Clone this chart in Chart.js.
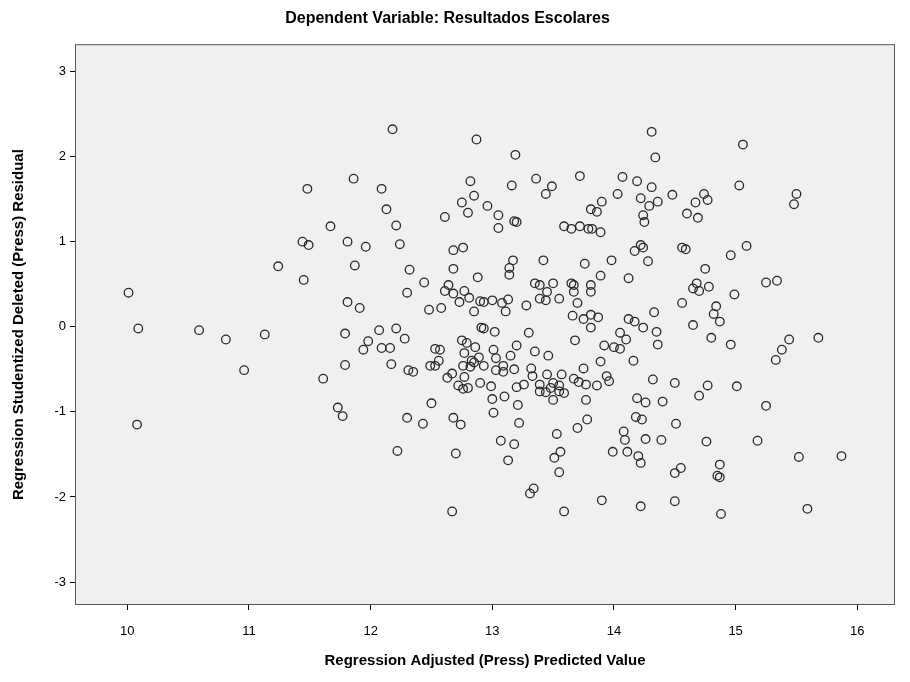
<!DOCTYPE html>
<html>
<head>
<meta charset="utf-8">
<script src="https://cdn.jsdelivr.net/npm/chart.js@4.4.1/dist/chart.umd.min.js"></script>
<style>
  html, body { margin: 0; padding: 0; background: #fff; }
  canvas { display: block; }
</style>
</head>
<body>
<canvas id="scatter" width="910" height="682"></canvas>
<script>
// predicted values (x) and studentized deleted residuals (y), one pair per case
const predicted = [
  11.48, 11.67, 11.44, 11.49, 11.24, 12.18, 12.87, 11.86, 12.09, 12.82,
  12.85, 12.75, 12.80, 12.96, 13.05, 13.05, 12.13, 12.61, 12.21, 11.81,
  11.96, 12.24, 12.68, 12.76, 11.87, 12.32, 12.68, 14.31, 14.34, 13.19,
  13.36, 13.49, 13.44, 13.16, 13.72, 14.07, 14.19, 14.31, 14.03, 14.22,
  14.29, 14.36, 14.48, 14.24, 14.25, 13.90, 13.81, 13.86, 13.18, 13.20,
  13.59, 13.65, 13.72, 13.79, 13.82, 13.89, 14.22, 14.17, 14.24, 13.17,
  13.14, 13.42, 13.76, 13.98, 14.28, 15.06, 15.03, 15.50, 15.48, 14.74,
  14.77, 14.67, 14.60, 14.69, 14.56, 14.59, 14.96, 15.09, 14.75, 11.45,
  10.01, 10.09, 10.59, 10.81, 11.13, 10.96, 11.61, 10.08, 12.88, 12.44,
  12.30, 12.64, 12.61, 12.68, 12.77, 12.81, 12.73, 12.90, 12.93, 13.00,
  12.85, 11.81, 11.91, 12.48, 12.58, 11.79, 12.07, 12.21, 11.98, 11.94,
  12.09, 12.16, 12.28, 12.91, 12.93, 13.02, 12.75, 12.79, 12.86, 13.01,
  12.53, 12.57, 12.77, 12.89, 13.03, 12.83, 12.85, 12.82, 12.76, 12.93,
  13.03, 11.79, 12.17, 12.56, 12.49, 12.53, 12.31, 12.35, 12.67, 12.63,
  12.77, 12.90, 12.99, 12.72, 12.76, 12.80, 13.00, 13.01, 12.50, 11.73,
  11.77, 12.30, 12.68, 12.43, 12.74, 13.14, 13.89, 14.12, 13.35, 13.39,
  13.50, 13.65, 13.67, 13.81, 13.45, 13.67, 13.81, 13.39, 13.44, 13.55,
  13.70, 13.13, 13.08, 13.11, 13.28, 13.66, 13.75, 13.81, 13.87, 13.81,
  14.33, 14.12, 14.17, 14.24, 14.35, 14.36, 14.05, 14.10, 13.92, 14.00,
  14.05, 13.30, 13.68, 13.20, 13.35, 13.46, 13.15, 13.09, 13.09, 13.18,
  13.89, 14.16, 13.75, 13.32, 13.33, 13.45, 13.57, 13.67, 13.71, 13.77,
  13.86, 13.94, 13.96, 14.32, 13.26, 13.20, 13.39, 13.39, 13.44, 13.48,
  13.50, 13.55, 13.55, 13.59, 13.50, 13.10, 13.77, 14.19, 14.26, 14.40,
  13.21, 13.22, 13.78, 13.70, 14.18, 14.23, 14.68, 14.65, 14.70, 14.78,
  14.99, 15.25, 15.34, 14.56, 14.84, 14.82, 14.87, 14.65, 14.80, 14.96,
  15.44, 15.38, 15.33, 15.68, 14.50, 14.77, 14.70, 15.01, 15.25, 14.51,
  12.22, 12.70, 12.67, 13.07, 13.18, 13.13, 13.53, 13.56, 13.51, 13.55,
  13.34, 13.31, 13.59, 13.90, 14.22, 14.08, 14.09, 14.26, 14.39, 13.99,
  14.11, 14.20, 14.22, 14.76, 15.18, 15.52, 15.87, 14.55, 14.50, 14.87,
  14.85, 14.87, 14.50, 14.88, 15.59
];
const residual = [
  1.62, 1.18, 1.00, 0.96, 0.71, 2.32, 2.20, 1.74, 1.62, 1.71,
  1.54, 1.46, 1.34, 1.42, 1.31, 1.16, 1.38, 1.29, 1.19, 1.00,
  0.94, 0.97, 0.90, 0.93, 0.72, 0.67, 0.68, 2.29, 1.99, 2.02,
  1.74, 1.65, 1.56, 1.66, 1.77, 1.76, 1.71, 1.64, 1.56, 1.51,
  1.42, 1.47, 1.55, 1.31, 1.23, 1.47, 1.38, 1.35, 1.24, 1.23,
  1.18, 1.15, 1.18, 1.15, 1.15, 1.11, 0.96, 0.89, 0.93, 0.78,
  0.69, 0.78, 0.74, 0.78, 0.77, 2.14, 1.66, 1.56, 1.44, 1.56,
  1.49, 1.46, 1.33, 1.28, 0.93, 0.91, 0.84, 0.95, 0.68, 0.55,
  0.40, -0.02, -0.04, -0.15, -0.09, -0.51, -0.61, -1.15, 0.58, 0.52,
  0.40, 0.49, 0.42, 0.39, 0.42, 0.34, 0.29, 0.30, 0.29, 0.31,
  0.18, 0.29, 0.22, 0.20, 0.22, -0.08, -0.04, -0.02, -0.17, -0.27,
  -0.25, -0.25, -0.14, -0.01, -0.02, -0.06, -0.16, -0.19, -0.24, -0.27,
  -0.26, -0.27, -0.31, -0.36, -0.37, -0.40, -0.42, -0.47, -0.46, -0.46,
  -0.51, -0.45, -0.44, -0.40, -0.46, -0.46, -0.51, -0.53, -0.55, -0.60,
  -0.59, -0.66, -0.70, -0.69, -0.73, -0.72, -0.85, -1.01, -0.90, -0.95,
  -1.05, -1.07, -1.07, -1.14, -1.15, 0.61, 0.60, 0.57, 0.51, 0.49,
  0.51, 0.51, 0.49, 0.49, 0.41, 0.41, 0.41, 0.33, 0.31, 0.33,
  0.28, 0.32, 0.28, 0.18, 0.25, 0.13, 0.09, 0.14, 0.11, -0.01,
  0.17, 0.09, 0.06, -0.01, -0.06, -0.21, -0.07, -0.15, -0.22, -0.24,
  -0.26, -0.07, -0.16, -0.22, -0.29, -0.34, -0.34, -0.46, -0.53, -0.50,
  -0.41, -0.40, -0.49, -0.49, -0.58, -0.56, -0.56, -0.61, -0.65, -0.68,
  -0.69, -0.58, -0.64, -0.62, -0.68, -0.71, -0.68, -0.76, -0.77, -0.72,
  -0.66, -0.69, -0.76, -0.78, -0.86, -0.82, -0.86, -0.84, -0.89, -0.88,
  -0.92, -1.13, -1.09, -1.19, -1.06, -1.09, 0.51, 0.45, 0.42, 0.47,
  0.38, 0.52, 0.54, 0.28, 0.24, 0.15, 0.06, 0.02, -0.13, -0.21,
  -0.15, -0.27, -0.39, -0.13, -0.66, -0.69, -0.81, -0.70, -0.93, -1.14,
  -1.46, -1.49, -2.17, -1.34, -1.38, -1.57, -1.26, -1.47, -1.54, -1.71,
  -1.90, -1.96, -2.17, -2.04, -2.11, -1.23, -1.33, -1.32, -1.33, -1.47,
  -1.47, -1.52, -1.60, -1.35, -1.34, -1.53, -1.52, -1.66, -1.72, -1.62,
  -1.75, -1.77, -2.05, -2.20, -2.14
];
const xTicks = [10, 11, 12, 13, 14, 15, 16];
const yTicks = [-3, -2, -1, 0, 1, 2, 3];

const points = predicted.map((v, i) => ({ x: v, y: residual[i] }));

// grey plot panel with a thin frame, like the SPSS chart template
const panel = {
  id: 'panel',
  beforeDraw(chart) {
    const { ctx, chartArea: a } = chart;
    ctx.save();
    ctx.fillStyle = '#f0f0f0';
    ctx.fillRect(a.left, a.top, a.width, a.height);
    ctx.restore();
  },
  afterDraw(chart) {
    const { ctx, chartArea: a } = chart;
    ctx.save();
    ctx.strokeStyle = '#555';
    ctx.lineWidth = 1;
    ctx.strokeRect(a.left + 0.5, a.top + 0.5, a.width - 1, a.height - 1);
    ctx.restore();
  }
};

const font = 'Arial, "Liberation Sans", sans-serif';

new Chart(document.getElementById('scatter'), {
  type: 'scatter',
  data: {
    datasets: [{
      data: points,
      pointStyle: 'circle',
      pointRadius: 4.3,
      pointHoverRadius: 4.3,
      pointBorderWidth: 1.3,
      borderColor: '#2a2a2a',
      backgroundColor: 'rgba(0,0,0,0)'
    }]
  },
  options: {
    responsive: false,
    animation: false,
    devicePixelRatio: 1,
    layout: { padding: { left: 0, right: 15, top: 0, bottom: 0 } },
    plugins: {
      legend: { display: false },
      tooltip: { enabled: false },
      title: {
        display: true,
        text: 'Dependent Variable: Resultados Escolares',
        color: '#000',
        font: { family: font, size: 16, weight: 'bold' },
        padding: { top: 9, bottom: 16 }
      }
    },
    scales: {
      x: {
        type: 'linear',
        min: 9.57,
        max: 16.31,
        afterBuildTicks(axis) { axis.ticks = xTicks.map(v => ({ value: v })); },
        afterFit(axis) { axis.height = 77; },
        grid: { display: true, drawOnChartArea: false, drawTicks: true, tickLength: 5, color: '#000' },
        border: { display: false },
        ticks: { color: '#000', font: { family: font, size: 13 }, padding: 14 },
        title: {
          display: true,
          text: 'Regression Adjusted (Press) Predicted Value',
          color: '#000',
          font: { family: font, size: 15, weight: 'bold' },
          padding: { top: 4, bottom: 12 }
        }
      },
      y: {
        type: 'linear',
        min: -3.27,
        max: 3.32,
        afterBuildTicks(axis) { axis.ticks = yTicks.map(v => ({ value: v })); },
        afterFit(axis) { axis.width = 75; },
        grid: { display: true, drawOnChartArea: false, drawTicks: true, tickLength: 5, color: '#000' },
        border: { display: false },
        ticks: { color: '#000', font: { family: font, size: 13 }, padding: 4 },
        title: {
          display: true,
          text: 'Regression Studentized Deleted (Press) Residual',
          color: '#000',
          font: { family: font, size: 15, weight: 'bold' },
          padding: { top: 10, bottom: 4 }
        }
      }
    }
  },
  plugins: [panel]
});
</script>
</body>
</html>
